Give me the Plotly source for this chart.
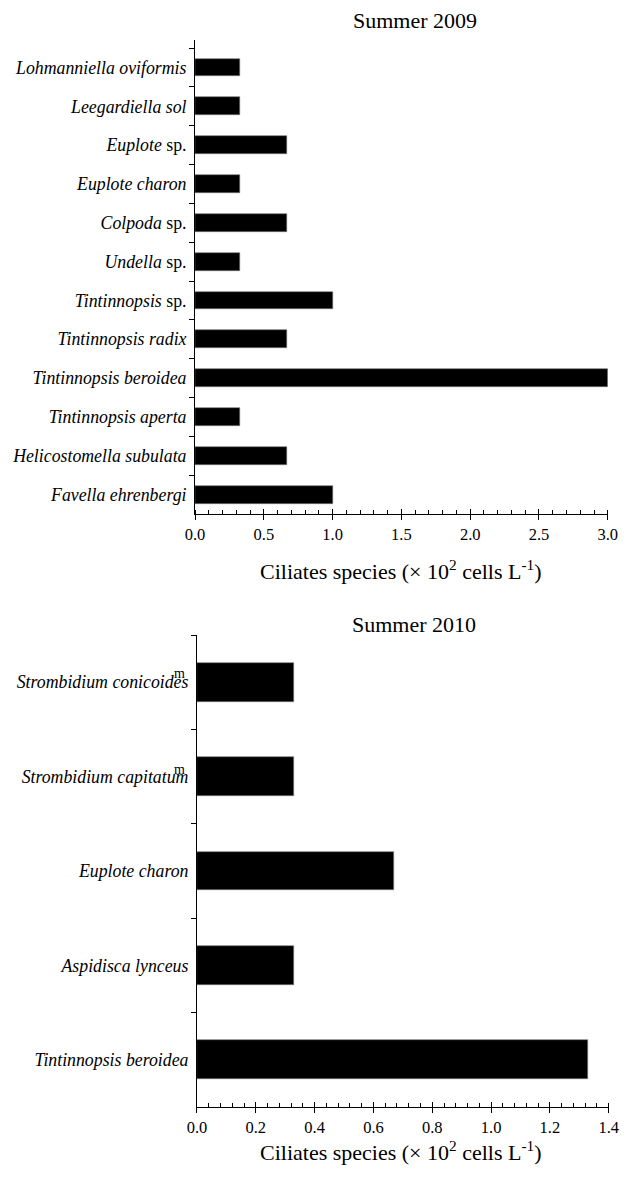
import plotly.graph_objects as go

# Summer 2009 ciliate abundances (x 10^2 cells per litre), listed top to bottom
species_2009 = [
    "<i>Lohmanniella oviformis</i>",
    "<i>Leegardiella sol</i>",
    "<i>Euplote</i> sp.",
    "<i>Euplote charon</i>",
    "<i>Colpoda</i> sp.",
    "<i>Undella</i> sp.",
    "<i>Tintinnopsis</i> sp.",
    "<i>Tintinnopsis radix</i>",
    "<i>Tintinnopsis beroidea</i>",
    "<i>Tintinnopsis aperta</i>",
    "<i>Helicostomella subulata</i>",
    "<i>Favella ehrenbergi</i>",
]
values_2009 = [0.33, 0.33, 0.67, 0.33, 0.67, 0.33, 1.00, 0.67, 3.00, 0.33, 0.67, 1.00]

# Summer 2010 ciliate abundances, listed top to bottom
species_2010 = [
    "<i>Strombidium conicoides</i>",
    "<i>Strombidium capitatum</i>",
    "<i>Euplote charon</i>",
    "<i>Aspidisca lynceus</i>",
    "<i>Tintinnopsis beroidea</i>",
]
values_2010 = [0.33, 0.33, 0.67, 0.33, 1.33]

panel_titles = ["Summer 2009", "Summer 2010"]
axis_title = "Ciliates species (\u00d7 10<sup>2</sup> cells L<sup>-1</sup>)"

W, H = 642, 1182
FONT = "'Liberation Serif', 'Times New Roman', Times, serif"


def px_x(v):
    return v / W


def px_y(v):
    return 1 - v / H


fig = go.Figure()

fig.add_trace(go.Bar(
    x=values_2009, y=species_2009, orientation="h",
    marker=dict(color="black", line=dict(color="#777", width=0.6)),
    width=0.46, xaxis="x", yaxis="y", showlegend=False,
))
fig.add_trace(go.Bar(
    x=values_2010, y=species_2010, orientation="h",
    marker=dict(color="black", line=dict(color="#777", width=0.6)),
    width=0.41, xaxis="x2", yaxis="y2", showlegend=False,
))
# invisible traces carrying the inward half of the major ticks
fig.add_trace(go.Scatter(x=[0], y=[species_2009[0]], mode="markers",
                         marker=dict(opacity=0), xaxis="x3", yaxis="y",
                         showlegend=False, hoverinfo="skip"))
fig.add_trace(go.Scatter(x=[0], y=[species_2010[0]], mode="markers",
                         marker=dict(opacity=0), xaxis="x4", yaxis="y2",
                         showlegend=False, hoverinfo="skip"))

top_dom_x = [px_x(191), px_x(617)]
bot_dom_x = [px_x(193), px_x(618)]
top_dom_y = [px_y(514), px_y(40)]
bot_dom_y = [px_y(1107), px_y(635)]

xcommon = dict(
    showline=True, linecolor="black", linewidth=1,
    ticks="outside", ticklen=5, tickwidth=1, tickcolor="black",
    showgrid=False, zeroline=False,
    tickfont=dict(family=FONT, size=16.5, color="black"),
)
ycommon = dict(
    type="category", autorange="reversed",
    showline=True, linecolor="black", linewidth=1,
    ticks="outside", ticklen=5, tickwidth=1, tickcolor="black",
    tickson="boundaries", showgrid=False, zeroline=False,
    ticklabelstandoff=4,
    tickfont=dict(family=FONT, size=17.8, color="black"),
)

fig.update_layout(
    width=W, height=H,
    margin=dict(l=0, r=0, t=0, b=0),
    paper_bgcolor="white", plot_bgcolor="white",
    font=dict(family=FONT, color="black"),
    bargap=0,
    xaxis=dict(domain=top_dom_x, anchor="y", range=[0, 3.0], dtick=0.5,
               tickformat=".1f",
               minor=dict(dtick=0.1, ticks="inside", ticklen=4,
                          tickcolor="black", showgrid=False),
               **xcommon),
    yaxis=dict(domain=top_dom_y, anchor="x", **ycommon),
    xaxis2=dict(domain=bot_dom_x, anchor="y2", range=[0, 1.4], dtick=0.2,
                tickformat=".1f",
                minor=dict(dtick=0.04, ticks="inside", ticklen=4,
                           tickcolor="black", showgrid=False),
                **xcommon),
    yaxis2=dict(domain=bot_dom_y, anchor="x2", **ycommon),
    xaxis3=dict(overlaying="x", matches="x", anchor="y", range=[0, 3.0],
                dtick=0.5, ticks="inside", ticklen=5, tickcolor="black",
                showticklabels=False, showline=False, showgrid=False,
                zeroline=False, side="bottom"),
    xaxis4=dict(overlaying="x2", matches="x2", anchor="y2", range=[0, 1.4],
                dtick=0.2, ticks="inside", ticklen=5, tickcolor="black",
                showticklabels=False, showline=False, showgrid=False,
                zeroline=False, side="bottom"),
)

annotations = [
    dict(text=panel_titles[0], x=px_x(418), y=px_y(20)),
    dict(text=panel_titles[1], x=px_x(417), y=px_y(624)),
    dict(text=axis_title, x=px_x(404), y=px_y(570)),
    dict(text=axis_title, x=px_x(404), y=px_y(1151)),
]
for a in annotations:
    fig.add_annotation(xref="paper", yref="paper", showarrow=False,
                       xanchor="center", yanchor="middle",
                       font=dict(family=FONT, size=22, color="black"), **a)

# small "m" marks printed over the ends of the Strombidium labels
for yy in (673, 769):
    fig.add_annotation(xref="paper", yref="paper", showarrow=False,
                       x=px_x(175), y=px_y(yy), text="m",
                       xanchor="center", yanchor="middle",
                       font=dict(family=FONT, size=14, color="black"))

fig.write_html("out.html")
